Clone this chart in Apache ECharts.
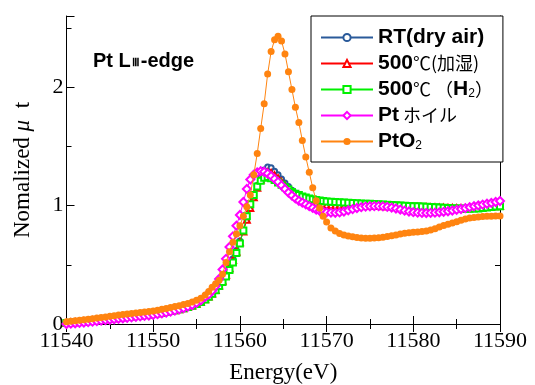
<!DOCTYPE html>
<html>
<head>
<meta charset="utf-8">
<script src="https://cdn.jsdelivr.net/npm/echarts@6/dist/echarts.min.js"></script>
<style>
  html, body { margin: 0; padding: 0; background: #fff; }
  #chart { width: 535px; height: 385px; }
</style>
</head>
<body>
<div id="chart"></div>
<script>
// energy points (eV)
const energy = [
  11540, 11540.5, 11541, 11541.5, 11542, 11542.5, 11543, 11543.5, 11544, 11544.5,
  11545, 11545.5, 11546, 11546.5, 11547, 11547.5, 11548, 11548.5, 11549, 11549.5,
  11550, 11550.5, 11551, 11551.5, 11552, 11552.5, 11553, 11553.5, 11554, 11554.5,
  11555, 11555.5, 11556,
  11556.4, 11556.8, 11557.2, 11557.6, 11558, 11558.4, 11558.8, 11559.2, 11559.6, 11560,
  11560.4, 11560.8, 11561.2, 11561.6, 11562, 11562.4, 11562.8, 11563.2, 11563.6, 11564,
  11564.4, 11564.8, 11565.2, 11565.6, 11566, 11566.4, 11566.8, 11567.2, 11567.6, 11568,
  11568.4, 11568.8, 11569.2, 11569.6, 11570,
  11570.5, 11571, 11571.5, 11572, 11572.5, 11573, 11573.5, 11574, 11574.5, 11575,
  11575.5, 11576, 11576.5, 11577, 11577.5, 11578, 11578.5, 11579, 11579.5, 11580,
  11580.5, 11581, 11581.5, 11582, 11582.5, 11583, 11583.5, 11584, 11584.5, 11585,
  11585.5, 11586, 11586.5, 11587, 11587.5, 11588, 11588.5, 11589, 11589.5, 11590
];

const rtDryAir = [
  0.010, 0.013, 0.016, 0.019, 0.022, 0.026, 0.030, 0.034, 0.038, 0.042,
  0.046, 0.050, 0.054, 0.058, 0.062, 0.066, 0.070, 0.074, 0.078, 0.082,
  0.087, 0.092, 0.098, 0.104, 0.111, 0.118, 0.126, 0.135, 0.145, 0.157,
  0.171, 0.188, 0.210,
  0.235, 0.260, 0.290, 0.330, 0.370, 0.420, 0.480, 0.550, 0.620, 0.700,
  0.790, 0.890, 0.990, 1.080, 1.170, 1.240, 1.300, 1.325, 1.320, 1.290,
  1.260, 1.225, 1.190, 1.160, 1.130, 1.105, 1.085, 1.070, 1.058, 1.050,
  1.043, 1.038, 1.033, 1.030, 1.027,
  1.024, 1.022, 1.020, 1.018, 1.017, 1.016, 1.015, 1.014, 1.013, 1.012,
  1.011, 1.010, 1.008, 1.006, 1.004, 1.002, 1.000, 0.998, 0.996, 0.994,
  0.992, 0.990, 0.988, 0.986, 0.984, 0.982, 0.980, 0.979, 0.978, 0.977,
  0.976, 0.976, 0.977, 0.979, 0.982, 0.985, 0.988, 0.991, 0.994, 0.996
];

const wet500 = [
  0.009, 0.012, 0.015, 0.018, 0.021, 0.025, 0.029, 0.033, 0.037, 0.041,
  0.045, 0.049, 0.053, 0.057, 0.061, 0.065, 0.069, 0.073, 0.077, 0.081,
  0.086, 0.091, 0.097, 0.103, 0.110, 0.117, 0.125, 0.134, 0.144, 0.156,
  0.170, 0.187, 0.208,
  0.232, 0.258, 0.288, 0.325, 0.365, 0.415, 0.470, 0.540, 0.610, 0.690,
  0.780, 0.880, 0.980, 1.070, 1.150, 1.220, 1.265, 1.280, 1.275, 1.255,
  1.230, 1.200, 1.170, 1.140, 1.115, 1.090, 1.070, 1.055, 1.042, 1.032,
  1.024, 1.017, 1.012, 1.008, 1.005,
  1.003, 1.001, 1.000, 0.999, 0.999, 0.999, 0.999, 0.999, 0.998, 0.998,
  0.997, 0.996, 0.995, 0.994, 0.993, 0.992, 0.991, 0.990, 0.989, 0.988,
  0.987, 0.986, 0.985, 0.984, 0.983, 0.982, 0.981, 0.980, 0.979, 0.978,
  0.977, 0.977, 0.978, 0.980, 0.982, 0.985, 0.988, 0.991, 0.994, 0.997
];

const h2500 = [
  0.008, 0.011, 0.014, 0.017, 0.020, 0.024, 0.028, 0.032, 0.036, 0.040,
  0.044, 0.048, 0.052, 0.056, 0.060, 0.064, 0.068, 0.072, 0.076, 0.080,
  0.085, 0.090, 0.096, 0.102, 0.109, 0.116, 0.124, 0.133, 0.143, 0.155,
  0.169, 0.186, 0.206,
  0.230, 0.255, 0.285, 0.320, 0.355, 0.400, 0.455, 0.520, 0.600, 0.680,
  0.790, 0.910, 1.010, 1.090, 1.160, 1.210, 1.235, 1.240, 1.230, 1.215,
  1.195, 1.175, 1.155, 1.135, 1.115, 1.100, 1.088, 1.077, 1.068, 1.060,
  1.053, 1.047, 1.042, 1.038, 1.035,
  1.032, 1.030, 1.028, 1.026, 1.024, 1.022, 1.020, 1.018, 1.016, 1.015,
  1.013, 1.011, 1.009, 1.007, 1.005, 1.003, 1.001, 0.999, 0.997, 0.995,
  0.993, 0.991, 0.989, 0.987, 0.985, 0.983, 0.981, 0.979, 0.977, 0.975,
  0.974, 0.973, 0.973, 0.974, 0.976, 0.979, 0.983, 0.987, 0.991, 0.995
];

const ptFoil = [
  0.000, 0.003, 0.006, 0.009, 0.012, 0.016, 0.020, 0.024, 0.028, 0.032,
  0.036, 0.040, 0.044, 0.048, 0.052, 0.056, 0.060, 0.064, 0.068, 0.072,
  0.077, 0.083, 0.089, 0.096, 0.104, 0.113, 0.123, 0.134, 0.146, 0.160,
  0.178, 0.200, 0.230,
  0.250, 0.280, 0.320, 0.380, 0.460, 0.550, 0.650, 0.740, 0.830, 0.920,
  1.030, 1.140, 1.220, 1.260, 1.280, 1.290, 1.285, 1.270, 1.250, 1.225,
  1.200, 1.170, 1.140, 1.110, 1.085, 1.060, 1.040, 1.025, 1.010, 0.995,
  0.980, 0.965, 0.955, 0.948, 0.943,
  0.940, 0.939, 0.942, 0.950, 0.960, 0.970, 0.979, 0.986, 0.991, 0.994,
  0.995, 0.995, 0.993, 0.989, 0.983, 0.975, 0.966, 0.957, 0.950, 0.944,
  0.940, 0.938, 0.937, 0.938, 0.940, 0.943, 0.947, 0.952, 0.958, 0.964,
  0.971, 0.978, 0.986, 0.994, 1.001, 1.008, 1.015, 1.022, 1.030, 1.038
];

const ptO2 = [
  0.020, 0.024, 0.028, 0.032, 0.036, 0.040, 0.045, 0.050, 0.055, 0.060,
  0.065, 0.070, 0.075, 0.080, 0.085, 0.089, 0.093, 0.097, 0.101, 0.105,
  0.110, 0.117, 0.124, 0.131, 0.139, 0.147, 0.155, 0.164, 0.174, 0.186,
  0.200, 0.218, 0.245,
  0.275, 0.310, 0.340, 0.370, 0.420, 0.520, 0.610, 0.690, 0.760, 0.830,
  0.910, 0.990, 1.090, 1.260, 1.440, 1.650, 1.860, 2.110, 2.300, 2.400,
  2.430, 2.390, 2.280, 2.130, 1.980, 1.830, 1.700, 1.550, 1.410, 1.280,
  1.150, 1.040, 0.980, 0.910, 0.860,
  0.810, 0.785, 0.765, 0.752, 0.743, 0.736, 0.730, 0.726, 0.724, 0.724,
  0.726, 0.729, 0.733, 0.738, 0.745, 0.752, 0.760, 0.766, 0.771, 0.774,
  0.777, 0.781, 0.786, 0.793, 0.805, 0.818, 0.832, 0.843, 0.853, 0.864,
  0.876, 0.887, 0.895, 0.900, 0.904, 0.907, 0.909, 0.910, 0.911, 0.912
];

const seriesNames = ["RT(dry air)", "500℃(加湿)", "500℃（H₂）", "Ptホイル", "PtO₂"];
const seriesValues = [rtDryAir, wet500, h2500, ptFoil, ptO2];
const seriesColors = ["#2a5a9a", "#ff0000", "#00f000", "#ff00ff", "#ff8410"];
const seriesSymbols = ["emptyCircle", "emptyTriangle", "emptyRect", "emptyDiamond", "circle"];
const seriesSizes = [5, 6, 6, 8, 7];

const legendText = {
  "RT(dry air)": "{b|RT(dry air)}",
  "500℃(加湿)": "{b|500}{n|℃(加湿)}",
  "500℃（H₂）": "{b|500}{n|℃ （}{b|H}{sub|2}{n|）}",
  "Ptホイル": "{b|Pt}{n| ホイル}",
  "PtO₂": "{b|PtO}{sub|2}",
};

const xTicks = [11540, 11550, 11560, 11570, 11580, 11590];
const yTicks = [0, 1, 2];

const myChart = echarts.init(document.getElementById("chart"), null, { renderer: "canvas" });

const serif = "Liberation Serif";
const sans = "Liberation Sans";

const tickBase = {
  axisLine: { show: true, lineStyle: { color: "#000", width: 1 } },
  axisTick: { show: true, inside: true, length: 8, lineStyle: { color: "#000" } },
  minorTick: { show: true, splitNumber: 2, length: 5, lineStyle: { color: "#000" } },
  splitLine: { show: false },
};

myChart.setOption({
  animation: false,
  backgroundColor: "#fff",
  title: {
    text: "{b|Pt L}{s|Ⅲ}{b|-edge}",
    left: 88,
    top: 46,
    textStyle: {
      rich: {
        b: { fontFamily: sans, fontWeight: "bold", fontSize: 20, color: "#000" },
        s: { fontFamily: serif, fontSize: 11, color: "#000", padding: [4, 1, 0, 1] },
      },
    },
  },
  legend: {
    orient: "vertical",
    left: 311,
    top: 16,
    width: 215,
    padding: [11, 10, 10, 9],
    itemGap: 5,
    itemWidth: 52,
    itemHeight: 9,
    backgroundColor: "#fff",
    borderColor: "#000",
    borderWidth: 1,
    borderRadius: 0,
    data: seriesNames,
    formatter: (name) => legendText[name],
    textStyle: {
      color: "#000",
      rich: {
        b: { fontFamily: sans, fontWeight: "bold", fontSize: 21, color: "#000", height: 20 },
        n: { fontFamily: "Noto Sans CJK JP", fontSize: 18, color: "#000", height: 20 },
        sub: { fontFamily: sans, fontSize: 12, color: "#000", padding: [9, 0, 0, 0] },
      },
    },
  },
  grid: { left: 66.5, right: 35, top: 16, bottom: 61, outerBoundsMode: "none" },
  xAxis: [
    {
      type: "value",
      min: xTicks[0],
      max: xTicks[xTicks.length - 1],
      interval: 10,
      position: "bottom",
      ...tickBase,
      axisLabel: {
        color: "#000",
        fontFamily: serif,
        fontSize: 22,
        margin: 6,
        formatter: (v) => String(v),
      },
      name: "Energy(eV)",
      nameLocation: "middle",
      nameGap: 37,
      nameTextStyle: { color: "#000", fontFamily: serif, fontSize: 23 },
    },
    {
      type: "value",
      min: xTicks[0],
      max: xTicks[xTicks.length - 1],
      interval: 10,
      position: "top",
      ...tickBase,
      axisLabel: { show: false },
    },
  ],
  yAxis: [
    {
      type: "value",
      min: 0,
      max: 2.6,
      interval: 1,
      position: "left",
      ...tickBase,
      axisLabel: {
        color: "#000",
        fontFamily: serif,
        fontSize: 22,
        margin: 3,
        showMaxLabel: false,
        formatter: (v) => (yTicks.includes(v) ? String(v) : ""),
      },
      name: "{a|Nomalized }{i|μ}{a|  t}",
      nameLocation: "middle",
      nameGap: 32,
      nameTextStyle: {
        rich: {
          a: { fontFamily: serif, fontSize: 23, color: "#000" },
          i: { fontFamily: serif, fontStyle: "italic", fontSize: 23, color: "#000" },
        },
      },
    },
    {
      type: "value",
      min: 0,
      max: 2.6,
      interval: 1,
      position: "right",
      ...tickBase,
      axisLabel: { show: false },
    },
  ],
  series: seriesNames.map((name, i) => ({
    name: name,
    type: "line",
    xAxisIndex: 0,
    yAxisIndex: 0,
    data: energy.map((e, j) => [e, seriesValues[i][j]]),
    symbol: seriesSymbols[i],
    symbolSize: seriesSizes[i],
    showAllSymbol: true,
    lineStyle: { color: seriesColors[i], width: 1 },
    itemStyle: { color: seriesColors[i], borderWidth: 1 },
    z: 2 + i,
  })),
});

window.addEventListener("resize", () => {
  myChart.resize();
});
</script>
</body>
</html>
